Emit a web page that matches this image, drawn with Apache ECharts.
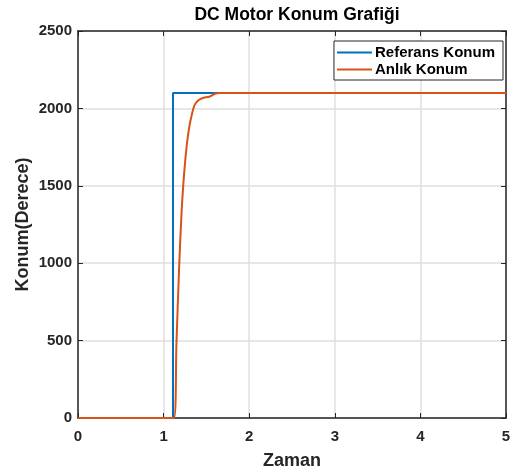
<!DOCTYPE html>
<html>
<head>
<meta charset="utf-8">
<script src="https://cdn.jsdelivr.net/npm/echarts@6/dist/echarts.min.js"></script>
<style>
html, body { margin: 0; padding: 0; background: #fff; }
#main { width: 514px; height: 468px; }
</style>
</head>
<body>
<div id="main"></div>
<script>
// reference: step at t = 1.11 to 2100 deg
var refTime = [0, 1.11, 1.11, 5];
var refValue = [0, 0, 2100, 2100];

var posTime = [0, 1.12, 1.15, 1.18, 1.21, 1.24, 1.27, 1.30, 1.33, 1.36, 1.40, 1.45, 1.54, 1.60, 1.65, 2.0, 3.0, 4.0, 5.0];
var posValue = [0, 0, 480, 950, 1330, 1580, 1760, 1880, 1960, 2020, 2050, 2066, 2077, 2095, 2100, 2100, 2100, 2100, 2100];

var xTicks = [0, 1, 2, 3, 4, 5];
var yTicks = [0, 500, 1000, 1500, 2000, 2500];

function pairs(xs, ys) {
	var out = [];
	for (var i = 0; i < xs.length; i++) out.push([xs[i], ys[i]]);
	return out;
}

var font = "'Liberation Sans', Arial, sans-serif";
var dark = '#262626';
var plain = function(v) { return String(v); };

var myChart = echarts.init(document.getElementById('main'));

var option = {
	backgroundColor: '#fff',
	animation: false,
	title: {
		text: 'DC Motor Konum Grafiği',
		left: 292,
		top: 1,
		textAlign: 'center',
		textStyle: { fontFamily: font, fontWeight: 'bold', fontSize: 17.5, color: '#000' }
	},
	legend: {
		orient: 'vertical',
		right: 11,
		top: 41,
		width: 171,
		backgroundColor: '#fff',
		borderColor: dark,
		borderWidth: 1,
		padding: [4, 8, 3, 3],
		itemGap: 2,
		itemWidth: 35,
		itemHeight: 2,
		icon: 'rect',
		textStyle: { fontFamily: font, fontWeight: 'bold', fontSize: 15, color: '#000', padding: [0, 0, 0, -2] },
		data: ['Referans Konum', 'Anlık Konum']
	},
	grid: { left: 78, right: 8, top: 31, bottom: 50, outerBoundsMode: 'none', containLabel: false },
	xAxis: [{
		type: 'value',
		min: xTicks[0],
		max: xTicks[xTicks.length - 1],
		interval: 1,
		name: 'Zaman',
		nameLocation: 'middle',
		nameGap: 34,
		nameTextStyle: { fontFamily: font, fontWeight: 'bold', fontSize: 18, color: dark },
		axisLine: { lineStyle: { color: dark, width: 1.5 } },
		axisTick: { inside: true, length: 5, lineStyle: { color: dark } },
		axisLabel: { fontFamily: font, fontWeight: 'bold', fontSize: 15, color: dark, margin: 11, formatter: plain },
		splitLine: { show: true, lineStyle: { color: '#dfdfdf', width: 1.5 } }
	}, {
		type: 'value',
		position: 'top',
		min: xTicks[0],
		max: xTicks[xTicks.length - 1],
		interval: 1,
		axisLine: { onZero: false, lineStyle: { color: dark, width: 1.5 } },
		axisTick: { inside: true, length: 5, lineStyle: { color: dark } },
		axisLabel: { show: false },
		splitLine: { show: false }
	}],
	yAxis: [{
		type: 'value',
		min: yTicks[0],
		max: yTicks[yTicks.length - 1],
		interval: 500,
		name: 'Konum(Derece)',
		nameLocation: 'middle',
		nameGap: 46,
		nameMoveOverlap: false,
		nameTextStyle: { fontFamily: font, fontWeight: 'bold', fontSize: 18, color: dark },
		axisLine: { show: true, lineStyle: { color: dark, width: 1.5 } },
		axisTick: { show: true, inside: true, length: 5, lineStyle: { color: dark } },
		axisLabel: { fontFamily: font, fontWeight: 'bold', fontSize: 15, color: dark, margin: 6, formatter: plain },
		splitLine: { show: true, lineStyle: { color: '#dfdfdf', width: 1.5 } }
	}, {
		type: 'value',
		position: 'right',
		min: yTicks[0],
		max: yTicks[yTicks.length - 1],
		interval: 500,
		axisLine: { show: true, onZero: false, lineStyle: { color: dark, width: 1.5 } },
		axisTick: { show: true, inside: true, length: 5, lineStyle: { color: dark } },
		axisLabel: { show: false },
		splitLine: { show: false }
	}],
	series: [{
		name: 'Referans Konum',
		type: 'line',
		data: pairs(refTime, refValue),
		showSymbol: false,
		symbol: 'none',
		color: '#0072BD',
		lineStyle: { width: 2, color: '#0072BD' },
		z: 3
	}, {
		name: 'Anlık Konum',
		type: 'line',
		data: pairs(posTime, posValue),
		showSymbol: false,
		symbol: 'none',
		smooth: 0.3,
		color: '#D95319',
		lineStyle: { width: 2, color: '#D95319' },
		z: 4
	}]
};

myChart.setOption(option);
</script>
</body>
</html>
